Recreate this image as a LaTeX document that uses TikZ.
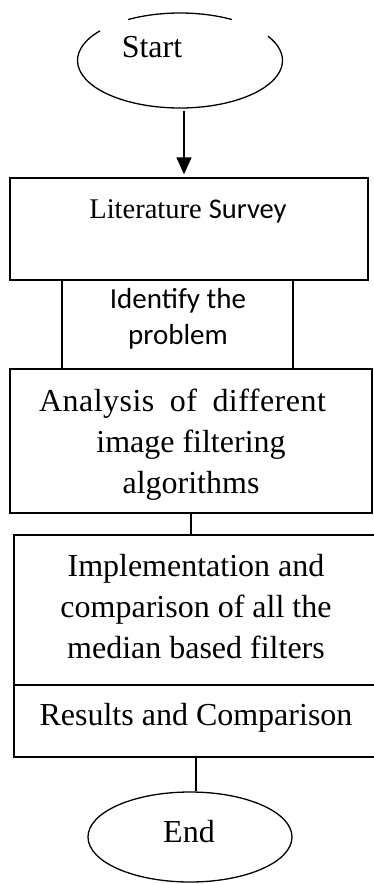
\documentclass[tikz,border=0pt]{standalone}
\usepackage{fontspec}
\setmainfont{Liberation Serif}
\newfontfamily\calibrifont{Carlito}
\usetikzlibrary{positioning, arrows.meta, calc, shapes.geometric}

\begin{document}
\begin{tikzpicture}[
    x=1pt, y=1pt,
    >={Triangle[length=17pt, width=15pt]},
    box/.style={draw=black, line width=1.3pt, inner sep=0pt},
    oval/.style={ellipse, inner sep=0pt},
    arrow/.style={->, line width=1.3pt, black},
    link/.style={line width=1.3pt, black},
    label/.style={font=\fontsize{32}{41}\selectfont, align=center, anchor=base},
    cal/.style={font=\calibrifont\fontsize{29}{36}\selectfont, align=center, anchor=base},
]
\useasboundingbox (0,0) rectangle (374,-884);
\clip (0,0) rectangle (374,-884);

% ===== Start =====
\node[oval, minimum width=205pt, minimum height=95pt] (start) at (180,-60.5) {};
\draw[link] (start.center) ++(59.5:102.5 and 47.5) arc[start angle=59.5, end angle=120.5, x radius=102.5, y radius=47.5];
\draw[link] (start.center) ++(141.3:102.5 and 47.5) arc[start angle=141.3, end angle=390.9, x radius=102.5, y radius=47.5];
\node[label] (starttext) at (152,-57) {Start};

% ===== Literature Survey =====
\node[box, minimum width=358pt, minimum height=102pt] (lit) at (189,-229) {};
\node[anchor=base, font=\fontsize{28.5}{34}\selectfont] (littext) at (188,-218) {Literature {\calibrifont Survey}};

\coordinate (arrowtop) at (184,-111);
\draw[arrow, shorten >=3pt] (arrowtop) -- (arrowtop |- lit.north);

% ===== Identify the problem =====
\node[box, minimum width=231pt, minimum height=89pt] (ident) at (177.5,-324.5) {};
\node[cal] (identtext) at (178,-344) {Identify the\\problem};

% ===== Analysis =====
\node[box, minimum width=362pt, minimum height=144pt] (ana) at (191,-441) {};
\node[label] (anatext) at (191,-493) {\hspace*{-17pt}{\addfontfeature{LetterSpace=1.5}Analysis\hspace{7pt} of\hspace{7pt} different}\\image filtering\\algorithms};

% ===== Implementation =====
\node[box, minimum width=364pt, minimum height=150pt] (impl) at (196,-610) {};
\node[label] (impltext) at (196,-658) {Implementation and\\comparison of all the\\median based filters};

\draw[link] (ana.south) -- (ana.south |- impl.north);

% ===== Results =====
\node[box, minimum width=364pt, minimum height=72pt] (res) at (196,-721) {};
\node[label] (restext) at (196,-725) {Results and Comparison};

% ===== End =====
\node[oval, draw, line width=1.3pt, minimum width=204pt, minimum height=90pt] (stop) at (190,-837) {};
\node[label] (stoptext) at (189,-842) {End};

\draw[link] (res.south) -- (res.south |- stop.north);

\end{tikzpicture}
\end{document}
